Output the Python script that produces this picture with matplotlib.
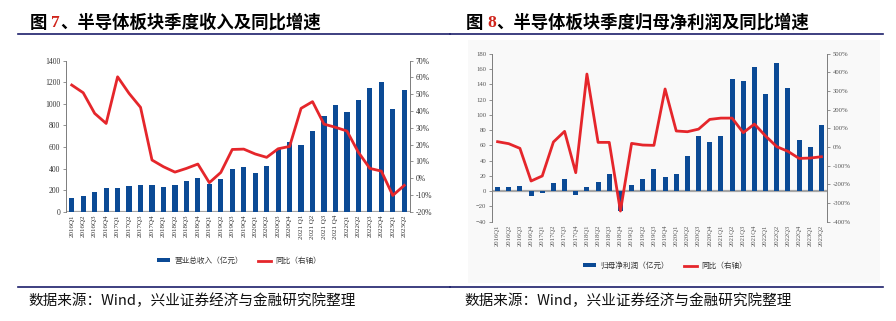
import matplotlib
matplotlib.use("Agg")
import matplotlib.pyplot as plt
from matplotlib.patches import Patch, Rectangle
from matplotlib.lines import Line2D

plt.rcParams['font.family'] = ['Noto Sans CJK SC', 'DejaVu Sans']

W, H = 896, 321

quarters = [f"{y}Q{q}" for y in range(2016, 2024) for q in range(1, 5)][:30]
quarters_left = [q.replace("2021Q", "2021 Q") for q in quarters]

# Fig 7: revenue (100m yuan) and YoY growth (%)
revenue = [130, 148, 179, 216, 216, 235, 247, 247, 226, 244, 287, 309, 253, 300, 392,
           414, 355, 420, 581, 646, 621, 748, 890, 989, 927, 1038, 1143, 1199, 955, 1131]
revenue_yoy = [55.5, 50.9, 38.6, 32.6, 60.4, 50.5, 42.2, 10.8, 6.8, 3.6, 5.8, 8.4, -2.7, 3.4, 17.1,
               17.3, 14.4, 12.4, 17.5, 18.9, 41.6, 45.6, 32.2, 30.3, 28.1, 15.4, 5.8, 4.2, -10.3, -4.3]

# Fig 8: net profit attributable (100m yuan) and YoY growth (%)
profit = [5.0, 5.4, 6.3, -6.8, -2.4, 10.2, 15.9, -4.6, 5.4, 12.4, 22.4, -26, 7.6, 16.3, 29,
          18, 23, 45.4, 72.6, 63.9, 71.7, 147, 143.8, 162.6, 127.6, 167.3, 134.6, 67, 57.4, 86.6]
profit_yoy = [28.6, 17.9, -7, -182, -155, 27, 84, -137.5, 391, 25, 25, -343, 19.6, 10.7, 9,
              311, 86, 82, 96, 148, 155, 155, 77, 123, 59, 2, -23, -61, -59, -52]

BLUE = '#0B4A95'
RED = '#E5262B'
NAVY = '#1C1F6B'
SERIF = ['Liberation Serif', 'DejaVu Serif']


def fx(x):
    return x / W


def fy(y):
    return 1 - y / H


fig = plt.figure(figsize=(W / 100, H / 100), dpi=100)

# faint background box of the second chart
fig.patches.append(Rectangle((fx(468), fy(283)), fx(880) - fx(468), fy(40) - fy(283),
                             transform=fig.transFigure, facecolor='#f9f9f9',
                             edgecolor='none', zorder=-5))


def style_axes(ax, ax2, labels, fs_y, fs_x, tcol):
    for a in (ax, ax2):
        a.set_facecolor('none')
        a.spines['top'].set_visible(False)
        a.spines['bottom'].set_visible(False)
        a.spines['left'].set_color('#808080')
        a.spines['right'].set_color('#808080')
        a.spines['left'].set_linewidth(0.7)
        a.spines['right'].set_linewidth(0.7)
        a.tick_params(axis='y', length=2, width=0.6, color='#808080',
                      labelsize=fs_y, labelcolor=tcol, pad=2)
        for t in a.get_yticklabels():
            t.set_family(SERIF)
    ax.set_xticks(range(len(labels)))
    ax.set_xticklabels(labels, rotation=90, fontsize=fs_x, color=tcol,
                       family=SERIF)
    ax.tick_params(axis='x', length=0, pad=2)
    ax.set_xlim(-0.5, len(labels) - 0.5)
    ax.axhline(0, color='#a6a6a6', lw=1.6, zorder=1)


handles = [Patch(facecolor=BLUE), Line2D([], [], color=RED, lw=2)]
legend_kw = dict(loc='center', ncol=2, frameon=False, fontsize=5.5,
                 handlelength=1.7, handleheight=0.45, handletextpad=0.6,
                 columnspacing=1.9, labelcolor='#333333')

# ---------- Figure 7 ----------
ax = fig.add_axes([fx(66), fy(211.7), fx(410) - fx(66), fy(60.7) - fy(211.7)])
ax.bar(range(len(quarters)), revenue, width=0.45, color=BLUE, zorder=2)
ax.set_ylim(0, 1400)
ax.set_yticks(range(0, 1401, 200))
ax2 = ax.twinx()
ax2.plot(range(len(quarters)), revenue_yoy, color=RED, lw=2.0, zorder=3)
ax2.set_ylim(-20, 70)
ax2.set_yticks(range(-20, 71, 10))
ax2.set_yticklabels([f"{v}%" for v in range(-20, 71, 10)])
style_axes(ax, ax2, quarters_left, 5.5, 5, '#333333')

fig.legend(handles, ['营业总收入（亿元）', '同比（右轴）'],
           bbox_to_anchor=(fx(239), fy(261)), **legend_kw)

# ---------- Figure 8 ----------
bx = fig.add_axes([fx(492), fy(221.7), fx(827) - fx(492), fy(53.7) - fy(221.7)])
bx.bar(range(len(quarters)), profit, width=0.45, color=BLUE, zorder=2)
bx.set_ylim(-40, 180)
bx.set_yticks(range(-40, 181, 20))
bx2 = bx.twinx()
bx2.plot(range(len(quarters)), profit_yoy, color=RED, lw=2.0, zorder=3)
bx2.set_ylim(-400, 500)
bx2.set_yticks(range(-400, 501, 100))
bx2.set_yticklabels([f"{v}%" for v in range(-400, 501, 100)])
style_axes(bx, bx2, quarters, 4.8, 4.8, '#555555')

fig.legend(handles, ['归母净利润（亿元）', '同比（右轴）'],
           bbox_to_anchor=(fx(665), fy(266)), **legend_kw)

# ---------- titles, rules and sources ----------
for x0, num, rest in [(30, '7', '半导体板块季度收入及同比增速'),
                      (466, '8', '半导体板块季度归母净利润及同比增速')]:
    t1 = fig.text(fx(x0), fy(23), '图 ', fontsize=12.5, fontweight='bold',
                  va='center', ha='left')
    fig.canvas.draw()
    bb = t1.get_window_extent()
    t2 = fig.text(bb.x1 / W, fy(23), num, fontsize=12.5, fontweight='bold',
                  va='center', ha='left', color='#D0241B', family=SERIF)
    fig.canvas.draw()
    bb2 = t2.get_window_extent()
    fig.text(bb2.x1 / W, fy(23), '、' + rest, fontsize=12.5, fontweight='bold',
             va='center', ha='left')

for xa, xb in [(18, 450), (450, 883)]:
    fig.add_artist(Line2D([fx(xa), fx(xb)], [fy(34), fy(34)], color=NAVY, lw=1.2,
                          transform=fig.transFigure))
    fig.add_artist(Line2D([fx(xa), fx(xb)], [fy(287), fy(287)], color=NAVY, lw=1.2,
                          transform=fig.transFigure))

for x0 in (28, 464):
    fig.text(fx(x0), fy(301), '数据来源：Wind，兴业证券经济与金融研究院整理',
             fontsize=10.5, va='center', ha='left', color='#111111')

fig.savefig('out.png', dpi=100)
